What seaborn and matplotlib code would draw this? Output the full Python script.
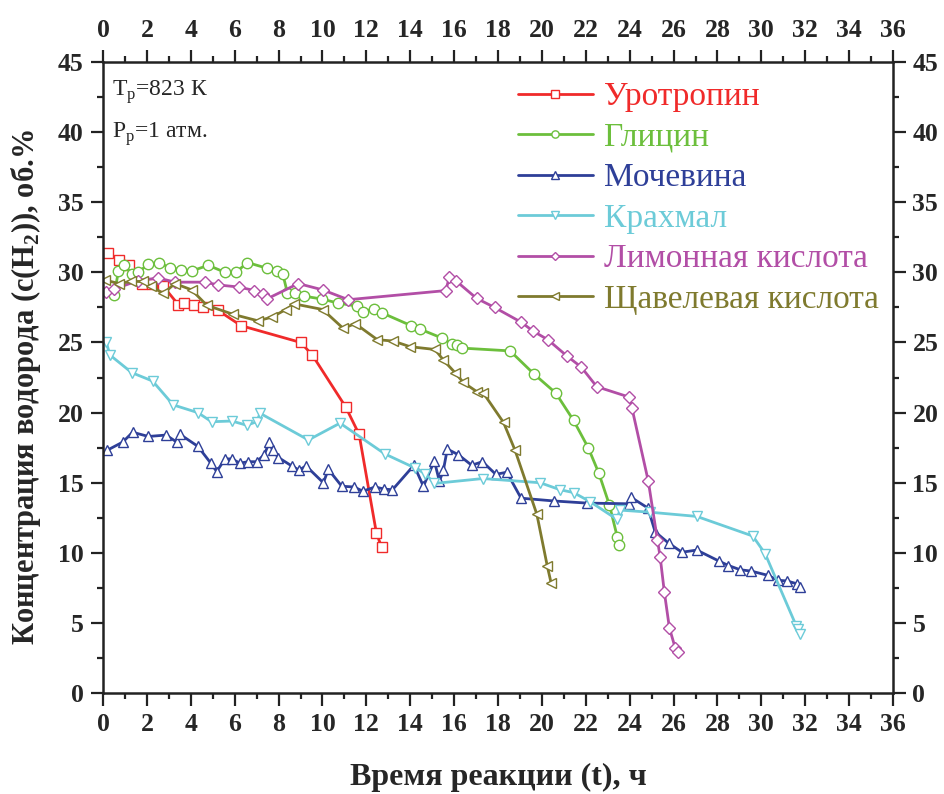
import seaborn as sns
import matplotlib.pyplot as plt
from matplotlib.ticker import MultipleLocator

# Уротропин
t_urotropin = [0.24, 0.73, 1.20, 1.76, 2.25, 2.75, 3.43, 3.71, 4.16, 4.54, 5.23, 6.29,
               9.01, 9.54, 11.06, 11.67, 12.46, 12.70]
c_urotropin = [31.4, 30.9, 30.5, 29.2, 29.2, 29.0, 27.7, 27.8, 27.7, 27.5, 27.3, 26.2,
               25.0, 24.1, 20.4, 18.45, 11.4, 10.4]

# Глицин
t_glycine = [0.52, 0.70, 0.97, 1.31, 1.61, 2.07, 2.57, 3.05, 3.56, 4.04, 4.80, 5.56, 6.06,
             6.58, 7.46, 7.92, 8.19, 8.40, 8.75, 9.16, 9.97, 10.73, 11.56, 11.84, 12.37,
             12.73, 14.04, 14.45, 15.47, 15.89, 16.12, 16.35, 18.55, 19.64, 20.63, 21.44,
             22.11, 22.59, 23.08, 23.44, 23.53]
c_glycine = [28.4, 30.1, 30.5, 29.9, 30.0, 30.6, 30.7, 30.3, 30.2, 30.1, 30.5, 30.0, 30.0,
             30.7, 30.3, 30.1, 29.9, 28.55, 28.5, 28.3, 28.1, 27.8, 27.6, 27.2, 27.4,
             27.1, 26.2, 25.95, 25.3, 24.9, 24.8, 24.6, 24.4, 22.75, 21.4, 19.45,
             17.5, 15.7, 13.4, 11.1, 10.55]

# Мочевина
t_urea = [0.17, 0.90, 1.35, 2.07, 2.87, 3.36, 3.51, 4.32, 4.91, 5.18, 5.56, 5.87, 6.24,
          6.62, 7.00, 7.35, 7.58, 7.73, 7.99, 8.60, 8.93, 9.25, 10.04, 10.27, 10.88,
          11.44, 11.84, 12.40, 12.81, 13.19, 14.17, 14.60, 15.10, 15.33, 15.51, 15.69,
          16.19, 16.80, 17.29, 17.90, 18.40, 19.05, 20.56, 22.05, 23.99, 24.07, 24.83,
          25.16, 25.77, 26.38, 27.06, 28.09, 28.50, 29.03, 29.54, 30.30, 30.75, 31.16,
          31.62, 31.77]
c_urea = [17.3, 17.9, 18.6, 18.3, 18.4, 17.9, 18.45, 17.6, 16.4, 15.8, 16.7, 16.7, 16.4,
          16.5, 16.5, 17.0, 17.9, 17.3, 16.8, 16.2, 15.9, 16.2, 15.0, 15.95, 14.75,
          14.7, 14.4, 14.7, 14.55, 14.5, 16.25, 14.75, 16.55, 15.1, 15.9, 17.4,
          17.0, 16.25, 16.5, 15.6, 15.75, 13.9, 13.7, 13.55, 13.5, 13.95, 13.2,
          11.5, 10.7, 10.05, 10.2, 9.4, 9.1, 8.8, 8.7, 8.4, 8.05, 8.0,
          7.8, 7.55]

# Крахмал
t_starch = [0.14, 0.32, 1.31, 2.26, 3.20, 4.32, 4.95, 5.87, 6.55, 7.00, 7.16, 9.36, 10.80,
            12.85, 14.22, 14.68, 15.10, 17.31, 19.92, 20.83, 21.44, 22.20, 23.41, 23.56,
            24.93, 27.06, 29.61, 30.17, 31.59, 31.65, 31.74]
c_starch = [25.05, 24.1, 22.85, 22.25, 20.55, 20.0, 19.35, 19.4, 19.1, 19.35, 19.95, 18.05,
            19.25, 17.05, 16.05, 15.65, 14.95, 15.3, 15.0, 14.5, 14.3, 13.65, 12.4, 13.05,
            12.9, 12.6, 11.2, 9.95, 4.8, 4.55, 4.2]

# Лимонная кислота
t_citric = [0.14, 0.50, 1.58, 2.52, 3.28, 4.65, 5.26, 6.21, 6.90, 7.31, 7.46, 8.90, 10.01,
            11.18, 15.62, 15.78, 16.08, 17.02, 17.84, 19.05, 19.61, 20.27, 21.13, 21.79,
            22.50, 23.99, 24.10, 24.85, 25.26, 25.39, 25.58, 25.81, 26.07, 26.22]
c_citric = [28.6, 28.8, 29.4, 29.6, 29.3, 29.3, 29.1, 28.95, 28.7, 28.45, 28.1, 29.2, 28.75,
            28.05, 28.7, 29.65, 29.4, 28.15, 27.5, 26.45, 25.8, 25.2, 24.05, 23.25,
            21.85, 21.1, 20.35, 15.1, 10.95, 9.7, 7.2, 4.65, 3.25, 2.9]

# Щавелевая кислота
t_oxalic = [0.09, 0.73, 1.28, 1.81, 2.19, 2.75, 3.28, 4.04, 4.73, 5.94, 7.05, 7.69, 8.33,
            8.72, 10.01, 10.95, 11.49, 12.50, 13.23, 13.99, 15.13, 15.51, 16.04, 16.42,
            17.03, 17.33, 18.25, 18.78, 19.77, 20.24, 20.42]
c_oxalic = [29.45, 29.2, 29.35, 29.35, 29.0, 28.5, 29.2, 28.75, 27.65, 27.0, 26.55, 26.8, 27.35,
            27.75, 27.35, 26.0, 26.35, 25.2, 25.1, 24.7, 24.5, 23.75, 22.85, 22.15,
            21.5, 21.4, 19.3, 17.3, 12.75, 9.1, 7.85]

series = [
    ('Уротропин', t_urotropin, c_urotropin, '#f02a2a', 's'),
    ('Глицин', t_glycine, c_glycine, '#6cbf3c', 'o'),
    ('Мочевина', t_urea, c_urea, '#2e3f98', '^'),
    ('Крахмал', t_starch, c_starch, '#6ccbd8', 'v'),
    ('Лимонная кислота', t_citric, c_citric, '#b24ea6', 'D'),
    ('Щавелевая кислота', t_oxalic, c_oxalic, '#7f7a2e', '<'),
]

sns.set_theme(style='ticks')
plt.rcParams['font.family'] = ['Liberation Serif', 'DejaVu Serif']
plt.rcParams['mathtext.fontset'] = 'custom'
plt.rcParams['mathtext.rm'] = 'Liberation Serif'
plt.rcParams['mathtext.bf'] = 'Liberation Serif:bold'

fig = plt.figure(figsize=(9.45, 7.94), dpi=100)
ax = fig.add_axes([0.109, 0.127, 0.836, 0.795])

for name, t, c, col, mk in series:
    ms = 6.5 if mk == 'D' else 7.5
    sns.lineplot(x=t, y=c, ax=ax, sort=False, color=col, linewidth=2, label=name,
                 marker=mk, markersize=ms, markerfacecolor='white', markeredgecolor=col,
                 markeredgewidth=1.0)

ax.set_xlim(0, 36)
ax.set_ylim(0, 45)
ax.xaxis.set_major_locator(MultipleLocator(2))
ax.xaxis.set_minor_locator(MultipleLocator(1))
ax.yaxis.set_major_locator(MultipleLocator(5))
ax.yaxis.set_minor_locator(MultipleLocator(2.5))
ax.tick_params(which='both', direction='out', top=True, right=True,
               labeltop=True, labelright=True, width=1.6, color='#222222')
ax.tick_params(which='major', length=9, labelsize=18.5, pad=5)
ax.tick_params(which='minor', length=4.5)
for tk in ax.xaxis.get_major_ticks() + ax.yaxis.get_major_ticks():
    tk.label1.set_fontweight('bold')
    tk.label2.set_fontweight('bold')
for sp in ax.spines.values():
    sp.set_linewidth(1.8)
    sp.set_color('#222222')

ax.set_xlabel('Время реакции (t), ч', fontsize=23, fontweight='bold', labelpad=20)
ax.set_ylabel('Концентрация водорода (c(H$_\\mathbf{2}$)), об.%', fontsize=22,
              fontweight='bold')
ax.yaxis.set_label_coords(-0.076, 0.485)

ax.text(0.012, 0.952, 'T$_\\mathregular{p}$=823 К', transform=ax.transAxes, fontsize=17,
        va='center', ha='left')
ax.text(0.012, 0.885, 'P$_\\mathregular{p}$=1 атм.', transform=ax.transAxes, fontsize=17,
        va='center', ha='left')

leg = ax.legend(loc='upper right', bbox_to_anchor=(1.008, 1.0), frameon=False, fontsize=24,
                handlelength=2.25, handletextpad=0.35, labelspacing=0.3, borderaxespad=0.2,
                markerscale=0.7)
for txt, s in zip(leg.get_texts(), series):
    txt.set_color(s[3])

fig.savefig('out.png', dpi=100)
